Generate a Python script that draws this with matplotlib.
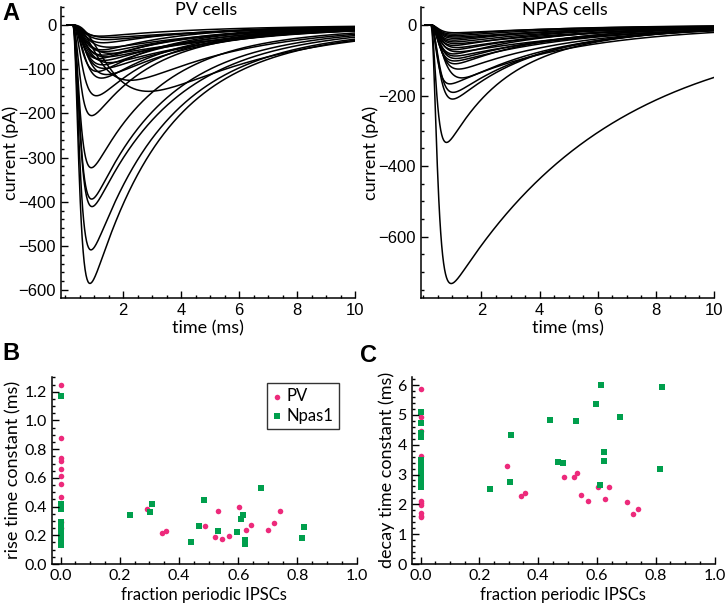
import numpy as np
import matplotlib.pyplot as plt
from matplotlib.ticker import MultipleLocator, FixedLocator

plt.rcParams['font.family'] = ['Lato', 'DejaVu Sans']

# averaged IPSC fits: peak amplitude (pA), rise / decay time constants (ms)
pv_amp = [585, 509, 411, 394, 323, 205, 160, 150, 125, 120, 112, 105, 98, 90,
          85, 80, 76, 72, 68, 64, 60, 56, 50, 40, 33, 28, 25]
pv_tr = [.15, .16, .17, .17, .17, .18, .24, 1.0, .7, .3, .35, .25, .3, .3,
         .35, .3, .25, .3, .3, .35, .3, .3, .35, .3, .3, .3, .25]
pv_td = [2.4, 2.5, 2.6, 2.4, 2.2, 2.0, 2.1, 4.0, 3.5, 2.4, 3.0, 2.2, 3.5, 2.8,
         4.0, 3.2, 2.6, 4.5, 3.0, 5.0, 3.5, 2.5, 4.0, 3.0, 4.5, 5.5, 3.5]

npas_amp = [733, 333, 210, 191, 167, 150, 125, 110, 102, 95, 88, 82, 76, 70,
            64, 58, 53, 48, 43, 38, 34, 30, 26, 22]
npas_tr = [.15, .14, .2, .2, .15, .3, .25, .22, .2, .22, .2, .2, .22, .2,
           .22, .2, .2, .2, .2, .2, .2, .2, .2, .2]
npas_td = [5.5, 2.0, 2.6, 2.9, 4.0, 3.2, 3.6, 3.0, 4.0, 3.5, 4.5, 3.2, 5.0, 3.8,
           4.2, 3.5, 5.0, 4.0, 3.5, 4.5, 5.0, 4.0, 3.5, 4.5]

# panels B/C: fraction periodic IPSCs vs rise / decay time constants
pv_frac = [0, 0, 0, 0, 0, 0, 0, 0, 0, 0,
           0.293, 0.342, 0.355, 0.489, 0.522, 0.533, 0.546, 0.570, 0.604,
           0.626, 0.642, 0.701, 0.722, 0.741]
pv_rise = [1.25, 0.88, 0.74, 0.72, 0.66, 0.61, 0.56, 0.47, 0.29, 0.25,
           0.385, 0.214, 0.23, 0.267, 0.186, 0.367, 0.176, 0.193, 0.395,
           0.239, 0.274, 0.239, 0.288, 0.367]
pv_decay = [5.86, 4.94, 4.47, 3.62, 2.12, 2.05, 1.98, 1.72, 1.62, 1.58,
            3.30, 2.28, 2.39, 2.92, 2.91, 3.04, 2.32, 2.10, 2.57,
            2.19, 2.57, 2.07, 1.68, 1.85]

np_frac = [0, 0, 0, 0, 0, 0, 0, 0, 0, 0, 0, 0,
           0.235, 0.303, 0.309, 0.442, 0.468, 0.486, 0.530, 0.597, 0.610,
           0.615, 0.624, 0.624, 0.677, 0.814, 0.822]
np_rise = [1.17, 0.42, 0.38, 0.29, 0.27, 0.25, 0.23, 0.21, 0.19, 0.17, 0.15, 0.13,
           0.341, 0.362, 0.416, 0.153, 0.267, 0.448, 0.228, 0.221, 0.313,
           0.341, 0.167, 0.139, 0.531, 0.179, 0.258]
np_decay = [5.08, 4.72, 4.38, 4.25, 3.49, 3.35, 3.22, 3.10, 2.93, 2.80, 2.68, 2.57,
            2.53, 2.76, 4.34, 4.83, 3.42, 3.39, 4.79, 5.35, 2.65,
            6.01, 3.74, 3.46, 4.92, 3.17, 5.93]

PINK = '#ED2A7B'
GREEN = '#009F4D'


def ipsc(t, amp, tau_r, tau_d, delay=0.25, slow=0.15, tau_slow=6.0):
    s = np.clip(t - delay, 0, None)
    y = (1 - np.exp(-s / tau_r)) ** 3 * ((1 - slow) * np.exp(-s / tau_d)
                                         + slow * np.exp(-s / tau_slow))
    return -amp * y / y.max()


def style(ax, size=12):
    for side in ['top', 'right']:
        ax.spines[side].set_visible(False)
    for side in ['left', 'bottom']:
        ax.spines[side].set_linewidth(1.1)
    ax.tick_params(which='both', direction='in', width=1.0, labelsize=size)
    ax.tick_params(which='major', length=5)
    ax.tick_params(which='minor', length=2.5)


fig = plt.figure(figsize=(7.25, 6.07), dpi=100)
W, H = 725, 607


def box(l, t, r, b):
    return [l / W, 1 - b / H, (r - l) / W, (b - t) / H]


t = np.linspace(0.05, 10, 600)

ax1 = fig.add_axes(box(61, 7, 355, 298))
for a, r, d in zip(pv_amp, pv_tr, pv_td):
    ax1.plot(t, ipsc(t, a, r, d), color='black', lw=1.1)
ax1.set_xlim(-0.15, 10)
ax1.set_ylim(-618, 41)
ax1.yaxis.set_major_locator(FixedLocator([-600, -500, -400, -300, -200, -100, 0]))
ax1.yaxis.set_minor_locator(MultipleLocator(20))
ax1.set_ylabel('current (pA)', fontsize=13, labelpad=0)

ax2 = fig.add_axes(box(421, 7, 714, 298))
for a, r, d in zip(npas_amp, npas_tr, npas_td):
    ax2.plot(t, ipsc(t, a, r, d), color='black', lw=1.1)
ax2.set_xlim(-0.08, 10)
ax2.set_ylim(-774, 51)
ax2.yaxis.set_major_locator(FixedLocator([-600, -400, -200, 0]))
ax2.yaxis.set_minor_locator(MultipleLocator(50))
ax2.set_ylabel('current (pA)', fontsize=13, labelpad=0)

for ax in (ax1, ax2):
    style(ax)
    ax.xaxis.set_major_locator(FixedLocator([2, 4, 6, 8, 10]))
    ax.xaxis.set_minor_locator(MultipleLocator(0.5))
    ax.set_xlabel('time (ms)', fontsize=13, labelpad=2)
    for lab in ax.get_xticklabels() + ax.get_yticklabels():
        lab.set_family(['Liberation Sans'])

ax3 = fig.add_axes(box(51.7, 376.7, 356.7, 564))
ax3.scatter(pv_frac, pv_rise, s=16, color=PINK, marker='o', lw=0, label='PV')
ax3.scatter(np_frac, np_rise, s=18, color=GREEN, marker='s', lw=0, label='Npas1')
ax3.set_ylim(0, 1.305)
ax3.yaxis.set_major_locator(MultipleLocator(0.2))
ax3.yaxis.set_minor_locator(MultipleLocator(0.05))
ax3.yaxis.set_major_formatter('{x:.1f}')
ax3.set_ylabel('rise time constant (ms)', fontsize=13, labelpad=2)
leg = ax3.legend(loc='upper left', bbox_to_anchor=(0.705, 0.965), fontsize=12,
                 frameon=True, fancybox=False, edgecolor='black',
                 handlelength=0.6, handletextpad=0.3, borderpad=0.3,
                 labelspacing=0.2, borderaxespad=0)
leg.get_frame().set_linewidth(1.0)

ax4 = fig.add_axes(box(411.7, 376.7, 714.5, 564))
ax4.scatter(pv_frac, pv_decay, s=16, color=PINK, marker='o', lw=0)
ax4.scatter(np_frac, np_decay, s=18, color=GREEN, marker='s', lw=0)
ax4.set_ylim(0, 6.28)
ax4.yaxis.set_major_locator(MultipleLocator(1))
ax4.yaxis.set_minor_locator(MultipleLocator(0.2))
ax4.set_ylabel('decay time constant (ms)', fontsize=13, labelpad=2)

for ax in (ax3, ax4):
    style(ax, size=11.5)
    ax.set_xlim(-0.03, 1.0)
    ax.xaxis.set_major_locator(MultipleLocator(0.2))
    ax.xaxis.set_minor_locator(MultipleLocator(0.05))
    ax.xaxis.set_major_formatter('{x:.1f}')
    ax.set_xlabel('fraction periodic IPSCs', fontsize=12, labelpad=3)

fig.text(206 / W, 1 - 10 / H, 'PV cells', ha='center', va='center', fontsize=13)
fig.text(565 / W, 1 - 10 / H, 'NPAS cells', ha='center', va='center', fontsize=13)
fig.text(2 / W, 1 - 2 / H, 'A', ha='left', va='top', fontsize=17, fontweight='bold',
         family=['Liberation Sans'])
fig.text(2 / W, 1 - 342 / H, 'B', ha='left', va='top', fontsize=17, fontweight='bold',
         family=['Liberation Sans'])
fig.text(360 / W, 1 - 344 / H, 'C', ha='left', va='top', fontsize=17, fontweight='bold',
         family=['Liberation Sans'])

fig.savefig('out.png', dpi=100)
